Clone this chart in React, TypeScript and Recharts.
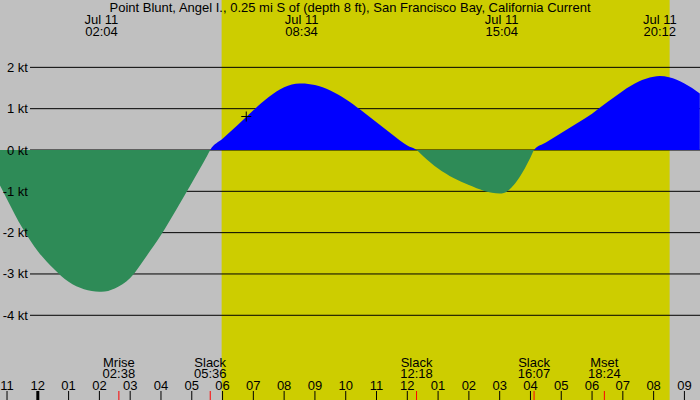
import React from "react";
import {
  ComposedChart,
  Area,
  XAxis,
  YAxis,
  CartesianGrid,
  ReferenceArea,
  ReferenceDot,
} from "recharts";

// Tidal current at Point Blunt, hours counted from local midnight of Jul 11.
const sampleHours = [
  -1.25, -1, -0.5, 0, 0.5, 1, 1.5, 2, 2.5, 3, 3.5, 4, 4.5, 5, 5.5, 6, 6.5, 7,
  7.5, 8, 8.5, 9, 9.5, 10, 10.5, 11, 11.5, 12, 12.5, 13, 13.5, 14, 14.5, 15,
  15.5, 16, 16.5, 17, 17.5, 18, 18.5, 19, 19.5, 20, 20.5, 21, 21.5,
];
const sampleKnots = [
  -0.83, -1.19, -1.89, -2.45, -2.86, -3.19, -3.37, -3.43, -3.35, -3.1, -2.6,
  -2.06, -1.44, -0.8, -0.14, 0.27, 0.61, 0.96, 1.28, 1.52, 1.61, 1.57, 1.44,
  1.23, 0.96, 0.67, 0.38, 0.11, -0.14, -0.45, -0.68, -0.85, -0.99, -1.05,
  -0.81, -0.18, 0.18, 0.41, 0.64, 0.88, 1.16, 1.43, 1.65, 1.77, 1.76, 1.61,
  1.37,
];

// Max flood / max ebb
const extremeHours = [2.067, 8.567, 15.067, 20.2];
const extremeKnots = [-3.43, 1.61, -1.05, 1.79];
const extremeDates = ["Jul 11", "Jul 11", "Jul 11", "Jul 11"];
const extremeTimes = ["02:04", "08:34", "15:04", "20:12"];

// Slack water and moon events
const eventHours = [2.633, 5.6, 12.3, 16.117, 18.4];
const eventNames = ["Mrise", "Slack", "Slack", "Slack", "Mset"];
const eventTimes = ["02:38", "05:36", "12:18", "16:07", "18:24"];
const slackHours = [5.6, 12.3, 16.117];

// Daylight (sunrise to sunset)
const sunrise = 5.97;
const sunset = 20.52;

// Present-time marker
const nowHour = 6.77;
const nowKnots = 0.81;

const hourTicks = [
  -1, 0, 1, 2, 3, 4, 5, 6, 7, 8, 9, 10, 11, 12, 13, 14, 15, 16, 17, 18, 19, 20,
  21,
];
const hourLabels = [
  "11", "12", "01", "02", "03", "04", "05", "06", "07", "08", "09", "10", "11",
  "12", "01", "02", "03", "04", "05", "06", "07", "08", "09",
];
const knotTicks = [-4, -3, -2, -1, 0, 1, 2];

const title =
  "Point Blunt, Angel I., 0.25 mi S of (depth 8 ft), San Francisco Bay, California Current";

const W = 700;
const H = 400;
const FONT = "'Liberation Sans', Arial, sans-serif";
const xDomain: [number, number] = [-1.228, 21.506];
const yDomain: [number, number] = [-6.05, 3.63];

const rows = [
  ...sampleHours.map((h, i) => ({ h, v: sampleKnots[i] })),
  ...extremeHours.map((h, i) => ({ h, v: extremeKnots[i] })),
  ...slackHours.map((h) => ({ h, v: 0 })),
].sort((a, b) => a.h - b.h);

const allV = rows.map((r) => r.v);
const vMax = Math.max(...allV);
const vMin = Math.min(...allV);
const zeroOffset = vMax / (vMax - vMin);

const HourTick = (props: any) => {
  const { x, payload } = props;
  const idx = hourTicks.indexOf(payload.value);
  return (
    <g>
      <line
        x1={x}
        x2={x}
        y1={H - 9}
        y2={H}
        stroke="#000"
        strokeWidth={payload.value === 0 ? 3 : 1}
      />
      <text x={x} y={H - 10} textAnchor="middle" fontSize={13} fontFamily={FONT} fill="#000">
        {hourLabels[idx]}
      </text>
    </g>
  );
};

const EventTick = (props: any) => {
  const { x, payload } = props;
  const idx = eventHours.indexOf(payload.value);
  return (
    <g>
      <line x1={x} x2={x} y1={H - 9} y2={H} stroke="#FF0000" strokeWidth={1} />
      <text x={x} y={H - 33} textAnchor="middle" fontSize={13} fontFamily={FONT} fill="#000">
        <tspan x={x}>{eventNames[idx]}</tspan>
        <tspan x={x} dy={11}>
          {eventTimes[idx]}
        </tspan>
      </text>
    </g>
  );
};

const ExtremeTick = (props: any) => {
  const { x, payload } = props;
  const idx = extremeHours.indexOf(payload.value);
  return (
    <text x={x} y={24} textAnchor="middle" fontSize={13} fontFamily={FONT} fill="#000">
      <tspan x={x}>{extremeDates[idx]}</tspan>
      <tspan x={x} dy={12}>
        {extremeTimes[idx]}
      </tspan>
    </text>
  );
};

const KnotTick = (props: any) => {
  const { y, payload } = props;
  return (
    <text x={28} y={y + 4.5} textAnchor="end" fontSize={13} fontFamily={FONT} fill="#000">
      {`${payload.value} kt`}
    </text>
  );
};

const gridLine = (p: any) => (
  <line
    key={p.key ?? `g-${p.y1}`}
    x1={p.x1 + 30}
    x2={p.x2}
    y1={p.y1}
    y2={p.y2}
    stroke="#000"
    strokeWidth={1}
  />
);

const Plus = (p: any) => (
  <g>
    <line x1={p.cx - 5} x2={p.cx + 5} y1={p.cy} y2={p.cy} stroke="#000" strokeWidth={1} />
    <line x1={p.cx} x2={p.cx} y1={p.cy - 5} y2={p.cy + 5} stroke="#000" strokeWidth={1} />
  </g>
);

export default function App() {
  return (
    <div
      style={{
        position: "absolute",
        left: 0,
        top: 0,
        width: W,
        height: H,
        background: "#C0C0C0",
        fontFamily: FONT,
      }}
    >
      <ComposedChart
        width={W}
        height={H}
        data={rows}
        margin={{ top: 0, right: 0, bottom: 0, left: 0 }}
      >
        <defs>
          <linearGradient id="flowFill" x1="0" y1="0" x2="0" y2="1">
            <stop offset={zeroOffset} stopColor="#0000FF" />
            <stop offset={zeroOffset} stopColor="#2E8B57" />
          </linearGradient>
        </defs>
        <XAxis
          xAxisId="hours"
          dataKey="h"
          type="number"
          domain={xDomain}
          allowDataOverflow
          ticks={hourTicks}
          interval={0}
          orientation="bottom"
          mirror
          axisLine={false}
          tickLine={false}
          tick={HourTick}
        />
        <XAxis
          xAxisId="events"
          dataKey="h"
          type="number"
          domain={xDomain}
          allowDataOverflow
          ticks={eventHours}
          interval={0}
          orientation="bottom"
          mirror
          axisLine={false}
          tickLine={false}
          tick={EventTick}
        />
        <XAxis
          xAxisId="extremes"
          dataKey="h"
          type="number"
          domain={xDomain}
          allowDataOverflow
          ticks={extremeHours}
          interval={0}
          orientation="top"
          mirror
          axisLine={false}
          tickLine={false}
          tick={ExtremeTick}
        />
        <YAxis
          type="number"
          domain={yDomain}
          allowDataOverflow
          ticks={knotTicks}
          interval={0}
          mirror
          axisLine={false}
          tickLine={false}
          tick={KnotTick}
        />
        <ReferenceArea
          xAxisId="hours"
          x1={sunrise}
          x2={sunset}
          y1={yDomain[0]}
          y2={yDomain[1]}
          fill="#CDCD00"
          fillOpacity={1}
          stroke="none"
          zIndex={-200}
        />
        <CartesianGrid
          xAxisId="hours"
          vertical={false}
          horizontal={gridLine}
          horizontalValues={knotTicks}
        />
        <Area
          xAxisId="hours"
          dataKey="v"
          type="monotone"
          baseValue={0}
          stroke="none"
          fill="url(#flowFill)"
          fillOpacity={1}
          dot={false}
          activeDot={false}
          isAnimationActive={false}
        />
        <ReferenceDot
          xAxisId="hours"
          x={nowHour}
          y={nowKnots}
          shape={Plus}
        />
      </ComposedChart>
      <svg
        width={W}
        height={H}
        style={{ position: "absolute", left: 0, top: 0, pointerEvents: "none" }}
      >
        <text x={350} y={12} textAnchor="middle" fontSize={13} fontFamily={FONT} fill="#000">
          {title}
        </text>
      </svg>
    </div>
  );
}
